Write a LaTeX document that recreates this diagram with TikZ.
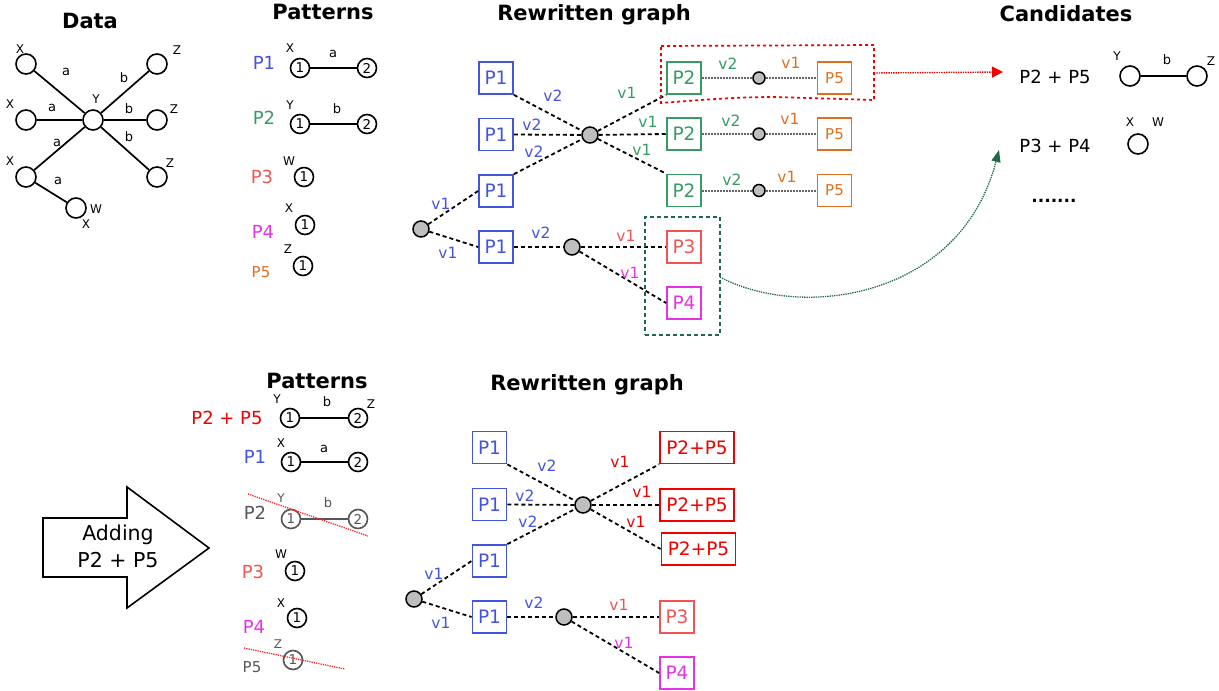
\documentclass[tikz,border=0pt]{standalone}
\usepackage{fontspec}
\setmainfont{DejaVu Sans}
\usetikzlibrary{arrows.meta}
\definecolor{cblue}{RGB}{68,85,221}
\definecolor{cgreen}{RGB}{55,155,100}
\definecolor{csalmon}{RGB}{240,85,85}
\definecolor{cmag}{RGB}{230,50,230}
\definecolor{corange}{RGB}{225,110,30}
\definecolor{cred}{RGB}{240,0,0}
\definecolor{cdkgreen}{RGB}{30,105,70}
\definecolor{cgraytxt}{RGB}{85,85,85}
\definecolor{hubgray}{RGB}{190,190,190}
\newcommand{\myfs}[1]{\fontsize{#1}{#1}\selectfont}
\tikzset{
  dn/.style={circle,draw,line width=1.6pt,minimum size=20pt,inner sep=0pt,fill=white},
  pn/.style={circle,draw,line width=1.6pt,minimum size=19pt,inner sep=0pt,font={\myfs{13.5}}},
  tl/.style={inner sep=0pt,font={\myfs{12}}},
  el/.style={inner sep=0pt,font={\myfs{13}}},
  ttl/.style={inner sep=0pt,font={\bfseries\myfs{21}}},
  plab/.style={inner sep=0pt,font={\myfs{18}}},
  pbox/.style={draw,line width=1.8pt,minimum width=34pt,minimum height=32pt,inner sep=0pt,font={\myfs{18.5}}},
  wbox/.style={pbox,minimum width=74pt},
  hub/.style={circle,draw,line width=1.5pt,fill=hubgray,minimum size=16pt,inner sep=0pt},
  shub/.style={circle,draw,line width=1.5pt,fill=hubgray,minimum size=12pt,inner sep=0pt},
  vl/.style={inner sep=0pt,font={\myfs{15.5}}},
  dl/.style={line width=1.8pt,dash pattern=on 4pt off 3pt},
  gl/.style={line width=2pt,draw=black!60,densely dotted},
  sl/.style={line width=1.7pt},
  strike/.style={draw=red!85,densely dotted,line width=1.3pt},
  gpn/.style={pn,draw=cgraytxt,text=cgraytxt},
}
\begin{document}
\begin{tikzpicture}[x=1pt,y=-1pt]
\useasboundingbox (0,0) rectangle (1219,691);

% ---------------- Data ----------------
\node[ttl] (tData) at (90,21) {Data};
\node[dn] (dx1) at (26,64) {};
\node[dn] (dx2) at (26,120) {};
\node[dn] (dx3) at (26,177) {};
\node[dn] (dy) at (93,120) {};
\node[dn] (dz1) at (157,64) {};
\node[dn] (dz2) at (157,120) {};
\node[dn] (dz3) at (157,177) {};
\node[dn] (dw) at (76,208) {};
\draw[sl] (dx1) -- (dy);
\draw[sl] (dx2) -- (dy);
\draw[sl] (dx3) -- (dy);
\draw[sl] (dy) -- (dz1);
\draw[sl] (dy) -- (dz2);
\draw[sl] (dy) -- (dz3);
\draw[sl] (dx3) -- (dw);
\node[tl] (lx1) at (20,49) {X};
\node[tl] (lx2) at (10,104) {X};
\node[tl] (lx3) at (10,161) {X};
\node[tl] (ly) at (96,99) {Y};
\node[tl] (lz1) at (177,50) {Z};
\node[tl] (lz2) at (174,109) {Z};
\node[tl] (lz3) at (170,163) {Z};
\node[tl] (lw) at (96,209) {W};
\node[tl] (lx4) at (86,224) {X};
\node[el] (ea1) at (66,72) {a};
\node[el] (ea2) at (52,108) {a};
\node[el] (ea3) at (57,143) {a};
\node[el] (ea4) at (58,181) {a};
\node[el] (eb1) at (124,78) {b};
\node[el] (eb2) at (129,109) {b};
\node[el] (eb3) at (129,137) {b};

% ---------------- Patterns (top) ----------------
\node[ttl] (tPat) at (323,12) {Patterns};
\node[plab,text=cblue] (lP1) at (264,63) {P1};
\node[pn] (p1a) at (300,68) {1};
\node[pn] (p1b) at (367,68) {2};
\draw[sl] (p1a) -- (p1b);
\node[tl] at (290,48) {X};
\node[el] at (333,54) {a};
\node[plab,text=cgreen] (lP2) at (264,118) {P2};
\node[pn] (p2a) at (300,124) {1};
\node[pn] (p2b) at (367,124) {2};
\draw[sl] (p2a) -- (p2b);
\node[tl] at (290,105) {Y};
\node[el] at (337,109) {b};
\node[plab,text=csalmon] (lP3) at (262,177) {P3};
\node[pn] (p3a) at (304,177) {1};
\node[tl] at (289,161) {W};
\node[plab,text=cmag] (lP4) at (263,232) {P4};
\node[pn] (p4a) at (305,225) {1};
\node[tl] at (289,208) {X};
\node[inner sep=0pt,font={\myfs{15}},text=corange] (lP5) at (261,272) {P5};
\node[pn] (p5a) at (303,266) {1};
\node[tl] at (288,249) {Z};

% ---------------- Rewritten graph (top) ----------------
\node[ttl] (tRw) at (594,15) {Rewritten graph};
\node[pbox,draw=cblue,text=cblue] (a1) at (496,78) {P1};
\node[pbox,draw=cblue,text=cblue] (a2) at (496,134.5) {P1};
\node[pbox,draw=cblue,text=cblue] (a3) at (496,191) {P1};
\node[pbox,draw=cblue,text=cblue] (a4) at (496,247) {P1};
\node[hub] (ah) at (590,135) {};
\node[hub] (ar) at (421,229) {};
\node[hub] (ah2) at (572,247) {};
\node[pbox,draw=cgreen,text=cgreen] (b1) at (684,78) {P2};
\node[pbox,draw=cgreen,text=cgreen] (b2) at (684,134) {P2};
\node[pbox,draw=cgreen,text=cgreen] (b3) at (684,190.5) {P2};
\node[shub] (s1) at (759,78) {};
\node[shub] (s2) at (759,134) {};
\node[shub] (s3) at (759,190.5) {};
\node[pbox,draw=corange,text=corange,font={\myfs{15}}] (c1) at (834.5,78) {P5};
\node[pbox,draw=corange,text=corange,font={\myfs{15}}] (c2) at (834.5,134) {P5};
\node[pbox,draw=corange,text=corange,font={\myfs{15}}] (c3) at (834.5,190.5) {P5};
\node[pbox,draw=csalmon,text=csalmon] (d3) at (684,247) {P3};
\node[pbox,draw=cmag,text=cmag] (d4) at (684,303) {P4};

\draw[dl] (a1.south east) -- (ah);
\draw[dl] (a2.east) -- (ah);
\draw[dl] (a3.north east) -- (ah);
\draw[dl] (ar) -- (a3.west);
\draw[dl] (ar) -- (a4.west);
\draw[dl] (a4.east) -- (ah2);
\draw[dl] (ah) -- (b1.south west);
\draw[dl] (ah) -- (b2.west);
\draw[dl] (ah) -- (b3.north west);
\draw[dl] (ah2) -- (d3.west);
\draw[dl] (ah2) -- (d4.west);
\draw[gl] (b1.east) -- (s1) -- (c1.west);
\draw[gl] (b2.east) -- (s2) -- (c2.west);
\draw[gl] (b3.east) -- (s3) -- (c3.west);

\node[vl,text=cblue] at (553,96) {v2};
\node[vl,text=cblue] at (532,125) {v2};
\node[vl,text=cblue] at (534,152) {v2};
\node[vl,text=cblue] at (441,204) {v1};
\node[vl,text=cblue] at (448,253) {v1};
\node[vl,text=cblue] at (541,233) {v2};
\node[vl,text=cgreen] at (627,93) {v1};
\node[vl,text=cgreen] at (648,122) {v1};
\node[vl,text=cgreen] at (642,150) {v1};
\node[vl,text=cgreen] at (728,64) {v2};
\node[vl,text=cgreen] at (731,121) {v2};
\node[vl,text=cgreen] at (732,180) {v2};
\node[vl,text=corange] at (791,63) {v1};
\node[vl,text=corange] at (790,119) {v1};
\node[vl,text=corange] at (787,177) {v1};
\node[vl,text=csalmon] at (626,236) {v1};
\node[vl,text=cmag] at (630,273) {v1};

% red region
\coordinate (r1) at (661,46);
\coordinate (r2) at (874,45);
\coordinate (r3) at (874,100);
\coordinate (r4) at (661,103);
\draw[draw=cred,line width=1.7pt,dash pattern=on 3pt off 3pt]
  (r1) -- (r2) -- (r3) -- (775,97) .. controls (735,97) and (700,100) .. (r4) -- cycle;
% green region
\node[draw=cdkgreen,line width=1.6pt,dash pattern=on 4pt off 3pt,minimum width=75pt,minimum height=118pt,inner sep=0pt] (gr) at (682.5,276) {};

% ---------------- Candidates ----------------
\node[ttl] (tCand) at (1066,14) {Candidates};
\node[inner sep=0pt,font={\myfs{18}}] (k1) at (1055,77) {P2 + P5};
\node[dn] (k1a) at (1130,76) {};
\node[dn] (k1b) at (1197,76) {};
\draw[sl] (k1a) -- (k1b);
\node[tl] at (1117,56) {Y};
\node[el] at (1167,60) {b};
\node[tl] at (1211,61) {Z};
\node[inner sep=0pt,font={\myfs{18}}] (k2) at (1055,146) {P3 + P4};
\node[dn] (k2a) at (1138,144) {};
\node[tl] at (1130,122) {X};
\node[tl] at (1158,122) {W};
\node[inner sep=0pt,font={\bfseries\myfs{17}}] (kdots) at (1054,201) {.......};

\coordinate (ra) at (874,73);
\coordinate (rb) at (1003,72);
\draw[draw=cred,densely dotted,line width=1.4pt,-{Triangle[length=11pt,width=11pt,fill=cred]}] (ra) -- (rb);
\coordinate (ga) at (720,277);
\coordinate (gb) at (999,150);
\draw[draw=cdkgreen,densely dotted,line width=1.3pt,-{Triangle[length=12pt,width=9pt,fill=cdkgreen]}]
  (ga) .. controls (800,320) and (960,300) .. (gb);

% ---------------- Adding arrow ----------------
\draw[line width=1.6pt,fill=white] (43,518) -- (127,518) -- (127,487) -- (209,548) -- (127,608) -- (127,577) -- (43,577) -- cycle;
\node[inner sep=0pt,font={\myfs{20.5}}] (add1) at (118,535) {Adding};
\node[inner sep=0pt,font={\myfs{20.5}}] (add2) at (118,560) {P2 + P5};

% ---------------- Patterns (bottom) ----------------
\node[ttl] (tPat2) at (317,381) {Patterns};
\node[inner sep=0pt,font={\myfs{18}},text=cred] (qP25) at (227,418) {P2 + P5};
\node[pn] (q0a) at (290,418) {1};
\node[pn] (q0b) at (358,418) {2};
\draw[sl] (q0a) -- (q0b);
\node[tl] at (277,399) {Y};
\node[el] at (327,402) {b};
\node[tl] at (371,404) {Z};
\node[plab,text=cblue] (qP1) at (255,457) {P1};
\node[pn] (q1a) at (291,462) {1};
\node[pn] (q1b) at (358,462) {2};
\draw[sl] (q1a) -- (q1b);
\node[tl] at (281,443) {X};
\node[el] at (324,449) {a};
\node[plab,text=cgraytxt] (qP2) at (255,513) {P2};
\node[gpn] (q2a) at (291,519) {1};
\node[gpn] (q2b) at (358,519) {2};
\draw[sl,draw=cgraytxt] (q2a) -- (q2b);
\node[tl,text=cgraytxt] at (281,498) {Y};
\node[el,text=cgraytxt] at (328,503) {b};
\coordinate (st1a) at (248,494);
\coordinate (st1b) at (368,536);
\draw[strike] (st1a) -- (st1b);
\node[plab,text=csalmon] (qP3) at (253,572) {P3};
\node[pn] (q3a) at (295,571) {1};
\node[tl] at (281,554) {W};
\node[plab,text=cmag] (qP4) at (254,627) {P4};
\node[pn] (q4a) at (297,618) {1};
\node[tl] at (281,603) {X};
\node[inner sep=0pt,font={\myfs{15}},text=cgraytxt] (qP5) at (252,667) {P5};
\node[gpn] (q5a) at (293,660) {1};
\node[tl,text=cgraytxt] at (278,644) {Z};
\coordinate (st2a) at (244,648);
\coordinate (st2b) at (345,669);
\draw[strike] (st2a) -- (st2b);

% ---------------- Rewritten graph (bottom) ----------------
\node[ttl] (tRw2) at (587,385) {Rewritten graph};
\node[pbox,draw=cblue,text=cblue] (e1) at (489.5,447.5) {P1};
\node[pbox,draw=cblue,text=cblue] (e2) at (489.5,504.5) {P1};
\node[pbox,draw=cblue,text=cblue] (e3) at (489.5,561) {P1};
\node[pbox,draw=cblue,text=cblue] (e4) at (489.5,617) {P1};
\node[hub] (eh) at (583,505) {};
\node[hub] (er) at (414,599) {};
\node[hub] (eh2) at (564,617) {};
\node[wbox,draw=cred,text=cred] (f1) at (697,447.5) {P2+P5};
\node[wbox,draw=cred,text=cred] (f2) at (697,505) {P2+P5};
\node[wbox,draw=cred,text=cred] (f3) at (698.5,549) {P2+P5};
\node[pbox,draw=csalmon,text=csalmon] (f4) at (677,617) {P3};
\node[pbox,draw=cmag,text=cmag] (f5) at (677,673) {P4};

\draw[dl] (e1.south east) -- (eh);
\draw[dl] (e2.east) -- (eh);
\draw[dl] (e3.north east) -- (eh);
\draw[dl] (er) -- (e3.west);
\draw[dl] (er) -- (e4.west);
\draw[dl] (e4.east) -- (eh2);
\draw[dl] (eh) -- (f1.south west);
\draw[dl] (eh) -- (f2.west);
\draw[dl] (eh) -- (f3.west);
\draw[dl] (eh2) -- (f4.west);
\draw[dl] (eh2) -- (f5.west);

\node[vl,text=cblue] at (547,466) {v2};
\node[vl,text=cblue] at (525,496) {v2};
\node[vl,text=cblue] at (528,522) {v2};
\node[vl,text=cblue] at (434,574) {v1};
\node[vl,text=cblue] at (441,623) {v1};
\node[vl,text=cblue] at (534,603) {v2};
\node[vl,text=cred] at (620,462) {v1};
\node[vl,text=cred] at (642,492) {v1};
\node[vl,text=cred] at (636,522) {v1};
\node[vl,text=csalmon] at (619,605) {v1};
\node[vl,text=cmag] at (624,643) {v1};
\end{tikzpicture}
\end{document}
